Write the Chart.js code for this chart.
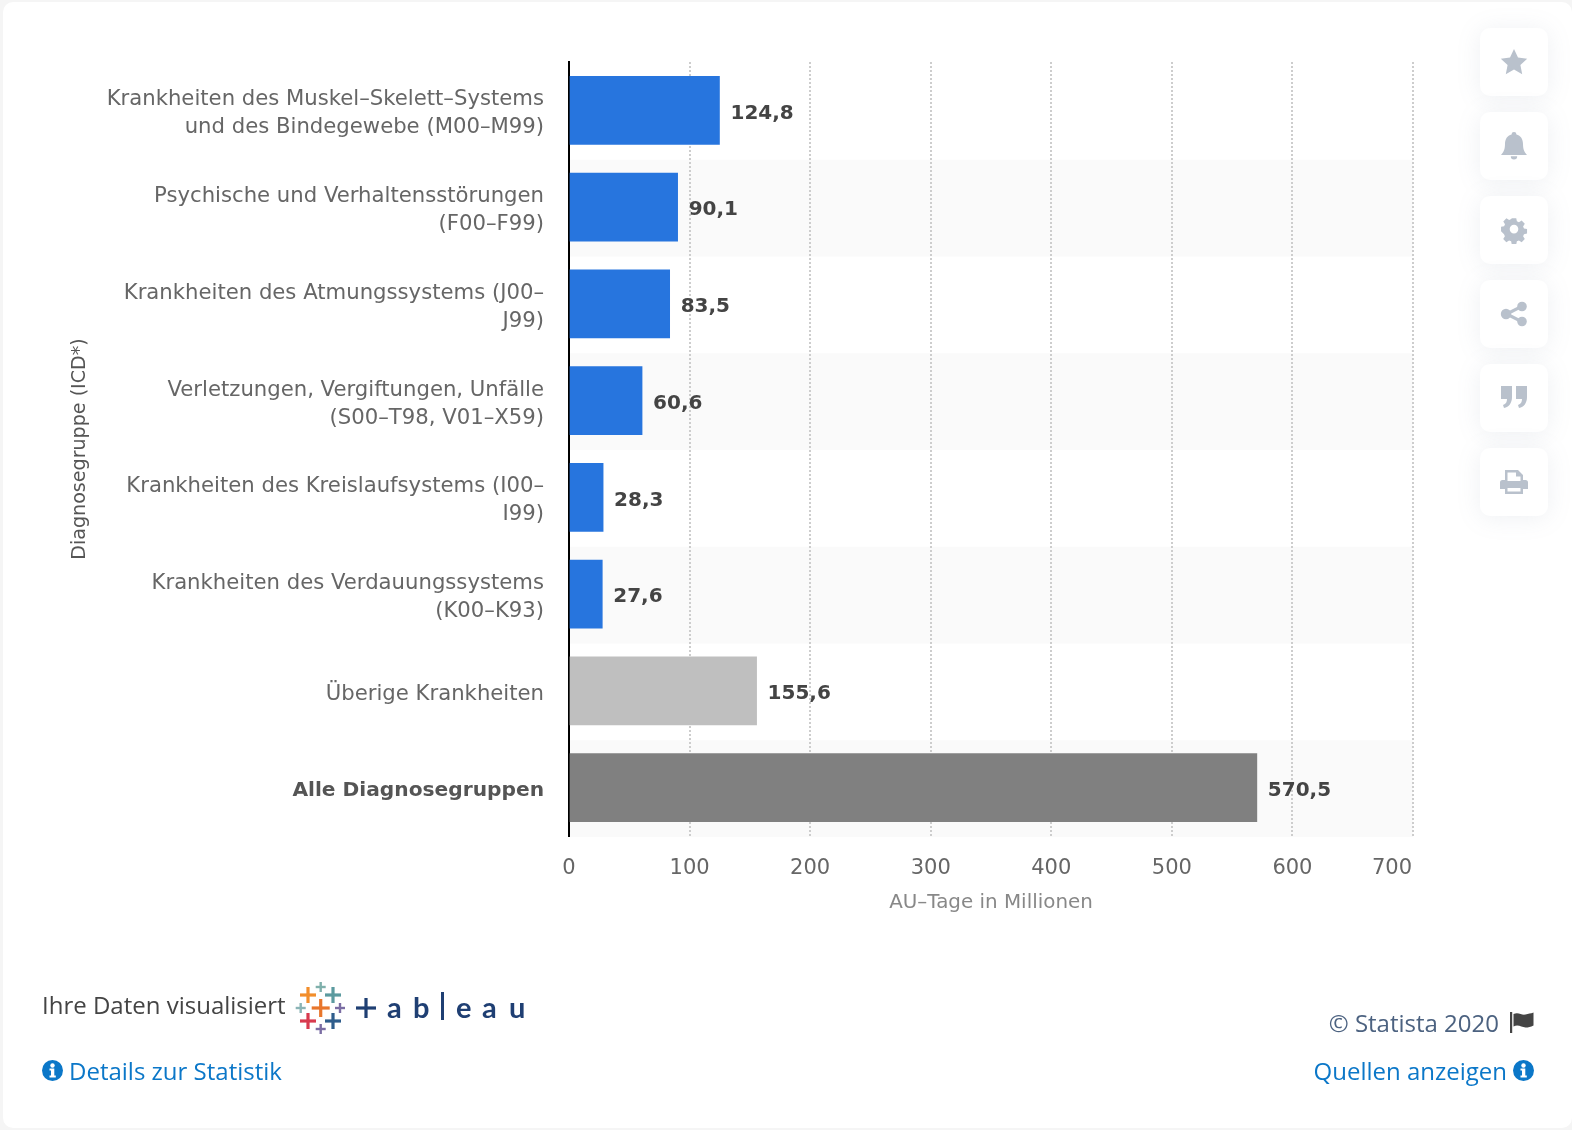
<!DOCTYPE html>
<html lang="de">
<head>
<meta charset="utf-8">
<title>AU-Tage nach Diagnosegruppe</title>
<script src="https://cdn.jsdelivr.net/npm/chart.js@4/dist/chart.umd.js"></script>
<style>
  html, body { margin: 0; padding: 0; background: #f5f5f5; }
  body { width: 1572px; height: 1130px; position: relative; overflow: hidden; font-family: "Open Sans", sans-serif; }
  #card { position: absolute; left: 3px; top: 2px; width: 1569px; height: 1126px; background: #fff; border-radius: 10px; }
  #myChart { position: absolute; left: 0; top: 0; }
  .txt { position: absolute; white-space: nowrap; line-height: 28px; }
  .link { color: #0b77c8; font-size: 24px; }
  .tool { position: absolute; left: 1480px; width: 68px; height: 68px; background: #fff; border-radius: 10px; box-shadow: 0 2px 24px rgba(120,140,160,.13); }
  .tool svg { position: absolute; left: 20px; top: 20px; width: 28px; height: 28px; fill: #b9c1cc; }
  .abs { position: absolute; }
</style>
</head>
<body>
<div id="card"></div>
<canvas id="myChart" width="1572" height="1130"></canvas>

<div class="tool" style="top:28px"><svg viewBox="0 0 28 28"><path d="M14 1l4 8.6 9.2 1.1-6.8 6.3 1.8 9.2L14 21.6 5.8 26.2l1.8-9.2L.8 10.7 10 9.6z"/></svg></div>
<div class="tool" style="top:112px"><svg viewBox="0 0 28 28"><path d="M14 0a2.4 2.4 0 0 1 2.4 2.6C20.800 3.600 23 7.400 23 12c0 6 1.800 8.400 4 11H1c2.200-2.600 4-5 4-11 0-4.600 2.200-8.400 6.600-9.400A2.400 2.400 0 0 1 14 0zM10.800 24.200h6.400a3.200 3.200 0 0 1-6.400 0z"/></svg></div>
<div class="tool" style="top:196px"><svg viewBox="0 0 28 28"><path fill-rule="evenodd" d="M11.500 2h5l.7 3.400 2.300 1 3-1.900 3.500 3.500-1.900 3 1 2.300 3.400.7v5l-3.400.7-1 2.300 1.900 3-3.500 3.500-3-1.900-2.300 1-.7 3.400h-5l-.7-3.400-2.300-1-3 1.900-3.500-3.500 1.900-3-1-2.300L-.4 16.500v-5l3.400-.7 1-2.300-1.900-3 3.500-3.500 3 1.900 2.300-1zM14 9.200a4.800 4.800 0 1 0 0 9.600 4.800 4.800 0 0 0 0-9.600z" transform="translate(1.400 .5) scale(.9)"/></svg></div>
<div class="tool" style="top:280px"><svg viewBox="0 0 28 28"><circle cx="22" cy="6.500" r="4.800"/><circle cx="22" cy="21.500" r="4.800"/><circle cx="6" cy="14" r="5.200"/><path d="M6 12.400l15-7.400 1.400 2.800L7.400 15.400zM7.400 12.600l15 7.600-1.400 2.800-15-7.600z"/></svg></div>
<div class="tool" style="top:364px"><svg viewBox="0 0 28 28"><path d="M1 2h11v11c0 6-3 10-8 11l-1-3c3-1 4-3 4-6H1zM16 2h11v11c0 6-3 10-8 11l-1-3c3-1 4-3 4-6h-6z"/></svg></div>
<div class="tool" style="top:448px"><svg viewBox="0 0 28 28"><path fill-rule="evenodd" d="M5 2h13l5 5v5h2.500A2.500 2.500 0 0 1 28 14.500V21h-5v5H5v-5H0v-6.500A2.500 2.500 0 0 1 2.500 12H5zM7.500 4.500V13h13V8.500h-4.500v-4zM7.500 20v3.500h13V20z"/></svg></div>

<div class="txt" style="left:42px;top:991px;font-size:24px;color:#444">Ihre Daten visualisiert</div>

<svg class="abs" style="left:295px;top:978px" width="240" height="60" viewBox="295 978 240 60" font-family="Lato, sans-serif" font-weight="700" font-size="29" fill="#1f3f73">
  <g id="marken"></g>
  <text x="387" y="1018">a</text>
  <text x="413" y="1018">b</text>
  <rect x="441" y="992" width="3" height="28"></rect>
  <text x="456" y="1018">e</text>
  <text x="482" y="1018">a</text>
  <text x="509" y="1018">u</text>
</svg>

<div class="abs" style="left:42px;top:1060px;width:21px;height:21px"><svg width="21" height="21" viewBox="0 0 21 21"><circle cx="10.500" cy="10.500" r="10.500" fill="#0b77c8"/><circle cx="10.500" cy="5.500" r="2.200" fill="#fff"/><path d="M7.500 8.500h4.800v7h1.500v2H7.500v-2H9v-5H7.500z" fill="#fff"/></svg></div>
<div class="txt link" style="left:69px;top:1057px">Details zur Statistik</div>

<div class="txt" style="right:73px;top:1009px;font-size:24px;color:#4c6280">© Statista 2020</div>
<svg class="abs" style="left:1510px;top:1012px" width="25" height="22" viewBox="0 0 25 22"><rect x="0" y="0" width="2.200" height="21" fill="#444"/><path d="M3.500 2c5-2.500 8 1.500 12 .5 3-.7 5-1 8-2v13c-3 1.500-5 2-8 2-4 0-7-3.500-12-1z" fill="#444"/></svg>
<div class="txt link" style="right:65px;top:1057px">Quellen anzeigen</div>
<div class="abs" style="left:1513px;top:1060px;width:21px;height:21px"><svg width="21" height="21" viewBox="0 0 21 21"><circle cx="10.500" cy="10.500" r="10.500" fill="#0b77c8"/><circle cx="10.500" cy="5.500" r="2.200" fill="#fff"/><path d="M7.500 8.500h4.800v7h1.500v2H7.500v-2H9v-5H7.500z" fill="#fff"/></svg></div>

<script>
const diagnosen = [
  ['Krankheiten des Muskel–Skelett–Systems', 'und des Bindegewebe (M00–M99)'],
  ['Psychische und Verhaltensstörungen', '(F00–F99)'],
  ['Krankheiten des Atmungssystems (J00–', 'J99)'],
  ['Verletzungen, Vergiftungen, Unfälle', '(S00–T98, V01–X59)'],
  ['Krankheiten des Kreislaufsystems (I00–', 'I99)'],
  ['Krankheiten des Verdauungssystems', '(K00–K93)'],
  'Überige Krankheiten',
  'Alle Diagnosegruppen'
];
const auTage = [124.8, 90.1, 83.5, 60.6, 28.3, 27.6, 155.6, 570.5];
const balkenFarben = ['#2775de', '#2775de', '#2775de', '#2775de', '#2775de', '#2775de', '#bfbfbf', '#808080'];
const achsenWerte = [0, 100, 200, 300, 400, 500, 600, 700];

const SCHRIFT = '"DejaVu Sans", sans-serif';

// logo crosses: cx, cy, half length, colour
const logoKreuze = [
  [320.7, 1008, 9, '#e8762c'], [308, 995, 8, '#f28e2b'], [333, 995, 8, '#5b9a9f'],
  [320.7, 987, 5, '#7fb0ab'], [308, 1021, 8, '#d83a4e'], [333, 1021, 8, '#2f5d8c'],
  [320.7, 1029, 5, '#7b6da3'], [300.7, 1008, 5, '#8ab4b6'], [340, 1008, 5, '#7b6da3'],
  [366, 1008, 10, '#1f3f73']
];
document.getElementById('marken').innerHTML = logoKreuze.map(([x, y, r, c]) => {
  const w = r > 6 ? 3.2 : 2.4;
  return `<rect x="${x - r}" y="${y - w / 2}" width="${2 * r}" height="${w}" fill="${c}"/>` +
         `<rect x="${x - w / 2}" y="${y - r}" width="${w}" height="${2 * r}" fill="${c}"/>`;
}).join('');

const zeilenBaender = {
  id: 'zeilenBaender',
  beforeDraw(chart) {
    const { ctx, chartArea, scales: { y } } = chart;
    const hoehe = chartArea.height / diagnosen.length;
    ctx.save();
    ctx.fillStyle = '#fafafa';
    diagnosen.forEach((_, i) => {
      if (i % 2 === 1) ctx.fillRect(chartArea.left, y.getPixelForValue(i) - hoehe / 2 + 1, chartArea.width, hoehe);
    });
    ctx.restore();
  }
};

const wertBeschriftung = {
  id: 'wertBeschriftung',
  afterDatasetsDraw(chart) {
    const { ctx } = chart;
    ctx.save();
    ctx.font = 'bold 20px ' + SCHRIFT;
    ctx.fillStyle = '#444';
    ctx.textBaseline = 'middle';
    chart.getDatasetMeta(0).data.forEach((bar, i) => {
      ctx.fillText(auTage[i].toFixed(1).replace('.', ','), bar.x + 11, bar.y + 3);
    });
    ctx.restore();
  }
};

// category labels sit a little below the tick centre, so they are drawn here rather than by the scale
const kategorieTexte = {
  id: 'kategorieTexte',
  afterDraw(chart) {
    const { ctx, scales: { y } } = chart;
    ctx.save();
    ctx.textAlign = 'right';
    ctx.textBaseline = 'middle';
    diagnosen.forEach((label, i) => {
      const zeilen = [].concat(label);
      const fett = i === diagnosen.length - 1;
      ctx.font = (fett ? 'bold 20.2px ' : '21.2px ') + SCHRIFT;
      ctx.fillStyle = fett ? '#555' : '#666';
      zeilen.forEach((zeile, k) => {
        ctx.fillText(zeile, 544, y.getPixelForTick(i) + 3.5 + (k - (zeilen.length - 1) / 2) * 28);
      });
    });
    ctx.restore();
  }
};

// the last tick would run over the plot edge, so it ends flush with the edge instead
const letzterTick = {
  id: 'letzterTick',
  afterDraw(chart) {
    const { ctx, scales: { x } } = chart;
    ctx.save();
    ctx.font = '21px ' + SCHRIFT;
    ctx.fillStyle = '#666';
    ctx.textAlign = 'right';
    ctx.textBaseline = 'middle';
    ctx.fillText(String(achsenWerte[achsenWerte.length - 1]), x.right - 1, 869);
    ctx.restore();
  }
};

new Chart(document.getElementById('myChart'), {
  type: 'bar',
  data: {
    labels: diagnosen,
    datasets: [{ data: auTage, backgroundColor: balkenFarben, barThickness: 68 }]
  },
  plugins: [zeilenBaender, wertBeschriftung, kategorieTexte, letzterTick],
  options: {
    indexAxis: 'y',
    responsive: false,
    animation: false,
    layout: { padding: { left: 0, top: 62, right: 159, bottom: 199 } },
    plugins: { legend: { display: false }, tooltip: { enabled: false } },
    scales: {
      x: {
        min: 0,
        max: 700,
        afterBuildTicks(scale) { scale.ticks = achsenWerte.map(value => ({ value })); },
        afterFit(scale) { scale.height = 95; },
        grid: { color: '#cdcdcd', lineWidth: 2, drawTicks: false },
        border: { display: false, dash: [2, 2] },
        ticks: {
          padding: 20,
          maxRotation: 0,
          color: '#666',
          font: { family: SCHRIFT, size: 21 },
          callback: v => (v === achsenWerte[achsenWerte.length - 1] ? '' : v)
        },
        title: {
          display: true,
          text: 'AU–Tage in Millionen',
          color: '#888',
          padding: { top: 0, bottom: 16 },
          font: { family: SCHRIFT, size: 19.9 }
        }
      },
      y: {
        afterFit(scale) { scale.width = 569; },
        grid: { display: false },
        border: { color: '#000', width: 2 },
        ticks: { display: false },
        title: {
          display: true,
          text: 'Diagnosegruppe (ICD*)',
          color: '#555',
          padding: { top: 69, bottom: 0 },
          font: { family: SCHRIFT, size: 19.1 }
        }
      }
    }
  }
});
</script>
</body>
</html>
